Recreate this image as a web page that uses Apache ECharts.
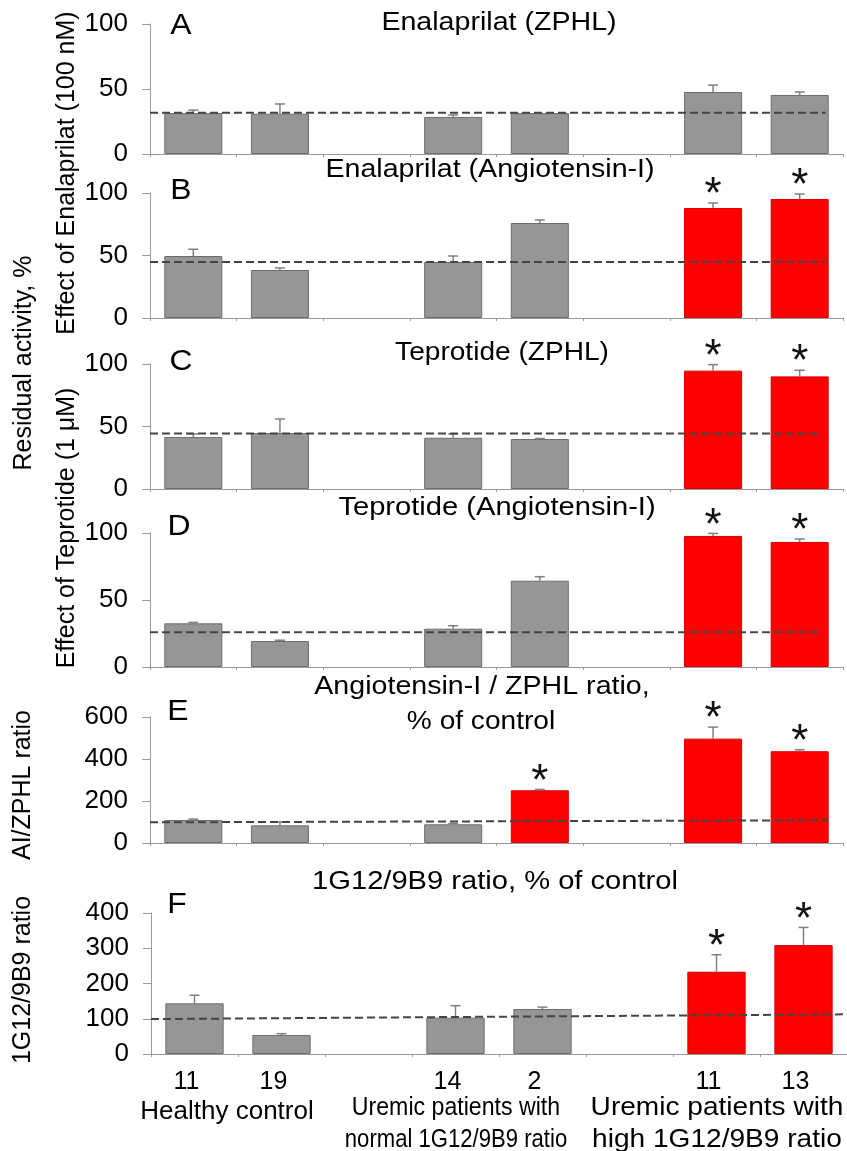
<!DOCTYPE html>
<html>
<head>
<meta charset="utf-8">
<script src="https://cdn.jsdelivr.net/npm/echarts@6/dist/echarts.min.js"></script>
<style>
html,body{margin:0;padding:0;background:#fff;}
#c{width:847px;height:1151px;}
</style>
</head>
<body>
<div id="c"></div>
<script>
// ---- data ----
const cats = ['11', '19', '', '14', '2', '', '11', '13'];

const valA = [31.5, 31, null, 28.5, 31.5, null, 47.7, 45.4];
const errA = [2.3, 7.5, null, 1.5, 0, null, 5.3, 2.3];
const sigA = [0, 0, 0, 0, 0, 0, 0, 0];
const refA = [31.8, 31.8];

const valB = [49.6, 38.4, null, 44.8, 76, null, 88, 95.2];
const errB = [5.4, 1.6, null, 4.8, 2.4, null, 4, 4];
const sigB = [0, 0, 0, 0, 0, 0, 1, 1];
const refB = [44.8, 44.8];

const valC = [41.6, 44.8, null, 41, 40, null, 94.7, 90.1];
const errC = [2.4, 11.2, null, 3, 0.4, null, 4.8, 4.9];
const sigC = [0, 0, 0, 0, 0, 0, 1, 1];
const refC = [44.5, 44.5];

const valD = [32.6, 19.4, null, 28.6, 64.4, null, 97.8, 93.3];
const errD = [0.7, 0.6, null, 2.2, 3, null, 1.9, 2.2];
const sigD = [0, 0, 0, 0, 0, 0, 1, 1];
const refD = [25.9, 25.9];

const valE = [109.5, 84, null, 89, 251, null, 497, 437];
const errE = [4.5, 16, null, 4, 4, null, 55, 7];
const sigE = [0, 0, 0, 0, 1, 0, 1, 1];
const refE = [98.4, 108];

const valF = [143.8, 54, null, 103, 127.7, null, 233.5, 309];
const errF = [23, 3.6, null, 34, 5.3, null, 48, 50];
const sigF = [0, 0, 0, 0, 0, 0, 1, 1];
const refF = [99, 112.6];

const yMaxes = [100, 100, 100, 100, 600, 400];
const yIntervals = [50, 50, 50, 50, 200, 100];

// ---- layout ----
const FONT = '"Liberation Sans", Arial, sans-serif';
const grids = [
  {left: 150, top: 24, width: 693, height: 130},
  {left: 150, top: 193, width: 693, height: 125},
  {left: 150, top: 364, width: 693, height: 125},
  {left: 150, top: 533, width: 693, height: 134},
  {left: 150, top: 717, width: 693, height: 126},
  {left: 151, top: 913, width: 700, height: 141}
];
const dashEnd = [7.8, 7.8, 7.75, 7.75, 7.82, 8];

const panels = [
  [valA, errA, sigA, refA],
  [valB, errB, sigB, refB],
  [valC, errC, sigC, refC],
  [valD, errD, sigD, refD],
  [valE, errE, sigE, refE],
  [valF, errF, sigF, refF]
];

const AXC = '#9a9a9a';
const xAxes = [], yAxes = [], series = [];
panels.forEach((p, i) => {
  const [vals, errs, sig, ref] = p;
  const isF = i === 5;
  xAxes.push({
    type: 'category', gridIndex: i, data: cats, boundaryGap: true,
    axisLine: {show: true, lineStyle: {color: AXC, width: 1}},
    axisTick: {show: true, length: 3, lineStyle: {color: AXC}},
    axisLabel: {show: isF, color: '#000', fontSize: 25, fontFamily: FONT, margin: 16,
      padding: [0, 16, 0, 0]},
    splitLine: {show: false}
  });
  xAxes.push({type: 'value', gridIndex: i, min: 0, max: 8, show: false});
  yAxes.push({
    type: 'value', gridIndex: i, min: 0, max: yMaxes[i], interval: yIntervals[i],
    axisLine: {show: true, lineStyle: {color: AXC, width: 1}},
    axisTick: {show: true, length: 8, inside: false, lineStyle: {color: AXC}},
    axisLabel: {color: '#000', fontSize: 26, fontFamily: FONT, margin: 22},
    splitLine: {show: false}
  });
  series.push({
    type: 'bar', xAxisIndex: 2 * i, yAxisIndex: i, barWidth: '67%', z: 2,
    data: vals.map((v, j) => v == null ? null : {
      value: v,
      itemStyle: sig[j]
        ? {color: '#ff0000', borderColor: '#d80000', borderWidth: 1}
        : {color: '#969696', borderColor: '#6e6e6e', borderWidth: 1}
    })
  });
  const edata = [];
  vals.forEach((v, j) => { if (v != null) edata.push([j, v, errs[j], sig[j]]); });
  series.push({
    type: 'custom', xAxisIndex: 2 * i, yAxisIndex: i, z: 3,
    encode: {x: 0, y: 1},
    data: edata,
    renderItem: function (params, api) {
      const j = api.value(0), v = api.value(1), e = api.value(2), s = api.value(3);
      const p0 = api.coord([j, v]);
      const p1 = api.coord([j, v + e]);
      const children = [];
      if (e > 0) {
        children.push({type: 'line', shape: {x1: p0[0], y1: p0[1], x2: p1[0], y2: p1[1]},
          style: {stroke: '#808080', lineWidth: 1.5}});
        children.push({type: 'line', shape: {x1: p1[0] - 5, y1: p1[1], x2: p1[0] + 5, y2: p1[1]},
          style: {stroke: '#808080', lineWidth: 1.5}});
      }
      if (s) {
        children.push({type: 'text', style: {
          text: '*', x: p1[0], y: p1[1] - 7, align: 'center', verticalAlign: 'middle',
          font: '44px ' + FONT, fill: '#111'
        }});
      }
      return {type: 'group', children: children};
    }
  });
  series.push({
    type: 'line', xAxisIndex: 2 * i + 1, yAxisIndex: i, z: 4, symbol: 'none', silent: true,
    data: [[0, ref[0]], [dashEnd[i], ref[1]]],
    lineStyle: {color: '#444', width: 2, type: [8, 4]}
  });
});

// ---- texts ----
function txt(text, x, y, size, opts) {
  opts = opts || {};
  return {
    type: 'text', x: x, y: y, rotation: opts.rot || 0, z: 10,
    scaleX: opts.sx || 1,
    style: {text: text, align: 'center', verticalAlign: 'middle',
      font: size + 'px ' + FONT, fill: '#000'}
  };
}
const R = Math.PI / 2;
const graphics = [
  txt('Enalaprilat (ZPHL)', 499, 23, 26, {sx: 1.1}),
  txt('Enalaprilat (Angiotensin-I)', 490, 170, 26, {sx: 1.1}),
  txt('Teprotide (ZPHL)', 502, 353, 26, {sx: 1.08}),
  txt('Teprotide (Angiotensin-I)', 497, 508, 26, {sx: 1.12}),
  txt('Angiotensin-I / ZPHL ratio,', 482, 687, 26, {sx: 1.1}),
  txt('% of control', 481, 722, 26, {sx: 1.08}),
  txt('1G12/9B9 ratio, % of control', 495, 882, 26, {sx: 1.12}),
  txt('A', 181, 26, 29, {sx: 1.1}), txt('B', 181, 191, 29, {sx: 1.1}), txt('C', 181, 362, 29, {sx: 1.1}),
  txt('D', 179, 527, 29, {sx: 1.1}), txt('E', 178, 712, 29, {sx: 1.1}), txt('F', 177, 905, 29, {sx: 1.1}),
  txt('Effect of Enalaprilat (100 nM)', 67, 173, 25, {rot: R}),
  txt('Residual activity, %', 24, 363, 25, {rot: R}),
  txt('Effect of Teprotide (1 \u03bcM)', 67, 528, 25, {rot: R}),
  txt('AI/ZPHL ratio', 23, 785, 25, {rot: R}),
  txt('1G12/9B9 ratio', 23, 980, 25, {rot: R}),
  txt('Healthy control', 227, 1112, 26, {sx: 1.0}),
  txt('Uremic patients with', 456, 1108, 26, {sx: 0.89}),
  txt('normal 1G12/9B9 ratio', 456, 1140, 26, {sx: 0.85}),
  txt('Uremic patients with', 717, 1108, 26, {sx: 1.08}),
  txt('high 1G12/9B9 ratio', 717, 1140, 26, {sx: 1.08})
];

const chart = echarts.init(document.getElementById('c'), null, {renderer: 'canvas'});
chart.setOption({
  animation: false,
  backgroundColor: '#fff',
  grid: grids,
  xAxis: xAxes,
  yAxis: yAxes,
  series: series,
  graphic: graphics
});
</script>
</body>
</html>
